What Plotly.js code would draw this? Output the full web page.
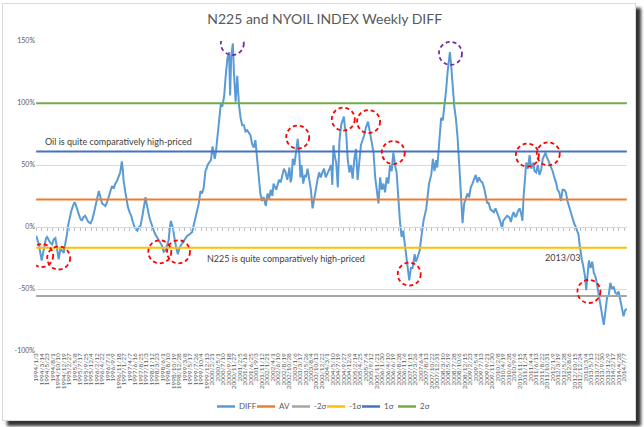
<!DOCTYPE html>
<html><head><meta charset="utf-8">
<script src="https://cdn.plot.ly/plotly-3.0.1.min.js"></script>
<style>
html,body{margin:0;padding:0;background:#fff;width:644px;height:427px;overflow:hidden;}
#frame{position:absolute;left:2px;top:3px;width:632px;height:416px;border:1px solid #D9D9D9;background:#fff;box-shadow:5px 5px 3px rgba(0,0,0,0.8);}
#chart{width:632px;height:416px;}
</style></head><body>
<div id="frame"><div id="chart"></div></div>
<script>
// ---- data (week index from 1994/1/3, DIFF %) ----
const weeks = [0,3,5,8,10,13,15,18,20,23,26,29,32,35,38,41,44,47,50,53,56,58,60,62,64,67,70,72,75,77,80,83,86,89,92,95,99,102,105,108,110,112,114,117,120,123,126,129,132,135,138,141,144,147,150,153,155,156,158,159,162,165,167,170,173,176,179,182,184,187,190,193,196,199,201,203,206,208,211,214,217,220,223,226,229,232,235,238,241,243,245,247,249,252,254,256,258,260,263,266,268,271,275,279,284,287,290,293,296,299,302,305,308,310,312,315,318,321,323,325,327,330,333,336,339,342,345,348,351,353,355,358,360,363,366,369,372,375,378,381,384,387,390,393,396,399,401,403,405,408,411,414,418,421,424,427,430,432,435,437,440,442,445,448,451,454,457,461,463,465,467,470,473,476,479,481,483,486,489,491,494,497,500,503,506,509,512,515,518,521,524,527,531,534,537,539,541,544,546,549,552,555,558,560,562,564,567,570,573,576,579,582,585,588,591,594,597,600,602,604,606,608,611,614,617,620,623,626,629,632,635,638,641,644,647,650,652,654,656,659,662,665,668,671,674,677,679,682,685,689,691,693,696,698,701,705,710,713,715,719,722,725,728,730,734,737,740,743,746,749,752,753,755,758,761,764,767,770,773,776,779,782,785,788,791,794,797,800,803,806,809,812,815,818,821,823,827,830,833,836,838,842,845,848,850,854,857,861,864,867,869,872,874,877,880,883,885,887,889,892,895,898,901,905,907,910,913,916,919,922,925,927,929,931,934,937,940,943,946,949,952,955,958,961,964,967,970,973,976,979,982,984,987,989,991,993,995,997,999,1001,1003,1006,1009,1012,1015,1018,1021,1024,1027,1030,1033,1036,1039,1042,1045,1048,1051,1054,1057,1060,1063,1066,1069,1072,1075];
const diff = [-7,-11,-14,-22,-27,-20,-15,-9,-8,-11,-13,-14,-10,-9,-18,-26,-18,-19,-21,-14,-6,1,5,11,13,17,20,18,14,11,7,5,8,9,6,4,3,6,11,17,22,27,29,24,19,18,17,20,24,29,33,31,35,37,40,44,50,53,45,38,29,20,16,12,9,4,0,-2,-3,0,1,8,18,24,19,13,8,5,0,-3,-6,-8,-10,-12,-15,-20,-19,-15,-11,-2,5,2,-1,-10,-16,-19,-22,-18,-15,-13,-12,-9,-7,-6,-4,2,8,14,19,29,27,32,45,47,50,52,54,65,60,55,60,74,89,99,98,105,122,136,141,106,138,148,124,101,122,99,88,82,82,77,78,76,74,67,64,70,60,50,43,27,21,24,17,27,23,30,25,35,32,30,35,38,36,42,47,44,38,48,36,40,55,50,63,71,58,40,50,35,42,40,47,38,30,15,24,32,38,44,40,44,47,40,44,48,50,34,66,56,52,32,70,82,86,89,80,77,55,44,50,39,55,63,38,55,66,70,74,80,83,85,80,75,70,60,40,30,19,40,30,35,28,40,35,50,45,60,52,48,44,20,5,-8,-3,-14,-24,-35,-43,-33,-33,-22,-28,-26,-22,-19,-8,5,15,25,35,42,55,45,54,48,72,88,86,97,110,126,138,141,132,110,97,87,72,50,20,3,19,24,27,24,32,35,38,42,36,40,37,36,32,25,19,20,14,13,12,15,13,8,4,-1,5,7,9,8,4,10,12,8,9,13,15,10,5,24,34,52,47,58,47,52,45,44,50,42,46,55,58,60,57,55,52,48,45,40,36,30,28,21,30,30,28,21,16,12,8,3,0,-2,-6,-14,-21,-26,-30,-35,-40,-51,-41,-27,-33,-28,-37,-40,-47,-55,-63,-71,-79,-68,-57,-55,-45,-50,-48,-53,-54,-52,-58,-65,-72,-67,-66];

// reference levels (%)
const levelNames  = ['AV','-2σ','-1σ','1σ','2σ'];
const levelValues = [22.1,-55.6,-16.8,60.9,99.7];

// circled points
const redWeeks  = [10,41,225,259,476,559,605,650,679,894,932,1006];
const redValues = [-23,-25,-20,-20,72.5,87,85,60,-38,58,59,-52];
const purpleWeeks  = [357,754];
const purpleValues = [148,140];

// y tick labels
const yTickVals = [-100,-50,0,50,100,150];
const yTickText = ['-100%','-50%','0%','50%','100%','150%'];
const labelEveryWeeks = 10;

// texts
const titleText = 'N225 and NYOIL INDEX Weekly DIFF';
const oilText = 'Oil is quite comparatively high-priced';
const n225Text = 'N225 is quite comparatively high-priced';
const markText = '2013/03';

// ---- build ----
const START = Date.UTC(1994,0,3);
const WEEK = 7*86400000;
const toDate = w => new Date(START + w*WEEK).toISOString().slice(0,10);
const dates = weeks.map(toDate);
const lastWeek = weeks[weeks.length-1];
const fmt = w => { const d = new Date(START + w*WEEK); return d.getUTCFullYear()+'/'+(d.getUTCMonth()+1)+'/'+d.getUTCDate(); };
const tickVals = [], tickText = [];
for (let w = 0; w <= lastWeek; w += labelEveryWeeks) { tickVals.push(toDate(w)); tickText.push(fmt(w)); }

const seriesColors = ['#5B9BD5','#ED7D31','#A5A5A5','#FFC000','#4472C4','#70AD47'];
const allNames = ['DIFF'].concat(levelNames);

const traces = [{
  x: dates, y: diff, type: 'scatter', mode: 'lines', name: 'DIFF',
  line: {color: seriesColors[0], width: 2}, hoverinfo: 'skip'
}];
levelValues.forEach((v, i) => {
  traces.push({x: [toDate(0), toDate(lastWeek)], y: [v, v], type: 'scatter', mode: 'lines',
    name: levelNames[i], line: {color: seriesColors[i+1], width: 2}, hoverinfo: 'skip'});
});
// carrier for the 0% axis line with tick marks
traces.push({x: [toDate(0)], y: [null], xaxis: 'x2', type: 'scatter', mode: 'lines', showlegend: false, hoverinfo: 'skip'});

const FONT = 'Lato, "Open Sans", sans-serif';
const shapes = [];
const circ = (w, v, color) => ({type: 'circle', xref: 'x', yref: 'y', xsizemode: 'pixel', ysizemode: 'pixel',
  xanchor: toDate(w), yanchor: v, x0: -11.5, x1: 11.5, y0: -11.5, y1: 11.5,
  line: {color: color, width: 1.8, dash: '4px,3px'}});
redWeeks.forEach((w, i) => shapes.push(circ(w, redValues[i], '#FF0000')));
purpleWeeks.forEach((w, i) => shapes.push(circ(w, purpleValues[i], '#7030A0')));

// custom legend
const PW = 591, PL = 36;
const px = a => (a - PL) / PW;
const legendStarts = [217, 257, 292, 327, 362, 398];
const legendY = -0.179;
const annotations = [];
allNames.forEach((n, i) => {
  shapes.push({type: 'line', xref: 'paper', yref: 'paper', x0: px(legendStarts[i]), x1: px(legendStarts[i] + 18),
    y0: legendY, y1: legendY, line: {color: seriesColors[i], width: 2.5}});
  annotations.push({xref: 'paper', yref: 'paper', x: px(legendStarts[i] + 20), y: legendY, xanchor: 'left', yanchor: 'middle',
    text: n, showarrow: false, font: {family: FONT, size: 8, color: '#595959'}});
});
annotations.push({xref: 'paper', yref: 'paper', x: px(43), y: (351 - 141.5) / 310, xanchor: 'left', yanchor: 'middle',
  text: oilText, showarrow: false, font: {family: FONT, size: 9, color: '#404040'}});
annotations.push({xref: 'paper', yref: 'paper', x: px(205), y: (351 - 258.5) / 310, xanchor: 'left', yanchor: 'middle',
  text: n225Text, showarrow: false, font: {family: FONT, size: 9, color: '#404040'}});
annotations.push({xref: 'paper', yref: 'paper', x: px(543), y: (351 - 257) / 310, xanchor: 'left', yanchor: 'middle',
  text: markText, showarrow: false, font: {family: FONT, size: 9, color: '#404040'}});

const xRange = [START - 0.3*WEEK, START + (lastWeek + 0.3)*WEEK];
const layout = {
  width: 632, height: 416,
  margin: {l: 33, r: 8, t: 37, b: 69, pad: 0},
  paper_bgcolor: '#fff', plot_bgcolor: '#fff',
  showlegend: false,
  title: {text: titleText, font: {family: FONT, size: 14, color: '#595959'},
    xref: 'container', x: 0.509, yref: 'container', y: 0.964, xanchor: 'center', yanchor: 'middle'},
  xaxis: {type: 'date', range: xRange, tickmode: 'array', tickvals: tickVals, ticktext: tickText,
    tickangle: -90, tickfont: {family: FONT, size: 6.5, color: '#595959'}, ticks: '',
    showgrid: false, zeroline: false, showline: false, automargin: false},
  xaxis2: {type: 'date', overlaying: 'x', matches: 'x', anchor: 'free', position: 0.4, side: 'bottom',
    range: xRange, tickmode: 'array', tickvals: tickVals, showticklabels: false, ticks: 'outside',
    ticklen: 3, tickcolor: '#BFBFBF', tickwidth: 1, showline: true, linecolor: '#D9D9D9', linewidth: 1,
    showgrid: false, zeroline: false},
  yaxis: {range: [-100, 150], tickmode: 'array', tickvals: yTickVals, ticktext: yTickText,
    tickfont: {family: FONT, size: 7, color: '#595959'}, gridcolor: '#D9D9D9', gridwidth: 1,
    zeroline: false, showline: false, ticks: '', automargin: false},
  shapes: shapes, annotations: annotations
};
Plotly.newPlot('chart', traces, layout, {displayModeBar: false, staticPlot: true});
</script></body></html>
